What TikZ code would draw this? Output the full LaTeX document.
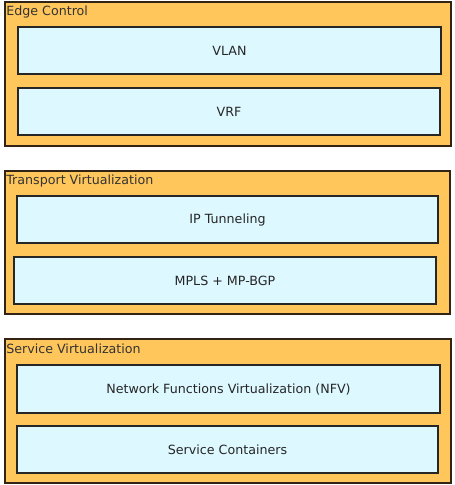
\documentclass[tikz,border=0pt]{standalone}
\usepackage{fontspec}
\setmainfont{DejaVu Sans}
\definecolor{outerfill}{RGB}{255,198,92}
\definecolor{innerfill}{RGB}{221,248,255}
\definecolor{edge}{RGB}{50,35,20}
\begin{document}
\begin{tikzpicture}[x=0.75pt,y=-0.75pt,
  group/.style={draw=edge,line width=0.9pt,fill=outerfill},
  layer/.style={draw=black!85,line width=0.9pt,fill=innerfill},
  lbl/.style={font=\fontsize{9.5pt}{11pt}\selectfont,text=black!85},
  title/.style={font=\fontsize{9.5pt}{11pt}\selectfont,text=black!80,anchor=west,inner sep=0pt}]
\useasboundingbox (0,0) rectangle (454,485);
\fill[white] (0,0) rectangle (454,485);
% Edge Control
\draw[group] (5,2) rectangle (451,146);
\node[title] (t1) at (6,12) {Edge Control};
\draw[layer] (18,27) rectangle (441,74);
\node[lbl] (vlan) at (229.5,51) {VLAN};
\draw[layer] (18,88) rectangle (440,135);
\node[lbl] (vrf) at (229,112) {VRF};
% Transport Virtualization
\draw[group] (5,171) rectangle (450,314);
\node[title] (t2) at (6,181) {Transport Virtualization};
\draw[layer] (17,196) rectangle (438,243);
\node[lbl] (ipt) at (227.5,220) {IP Tunneling};
\draw[layer] (14,257) rectangle (436,304);
\node[lbl] (mpls) at (225,281) {MPLS + MP-BGP};
% Service Virtualization
\draw[group] (5,339) rectangle (451,483);
\node[title] (t3) at (6,349) {Service Virtualization};
\draw[layer] (17,365) rectangle (440,413);
\node[lbl] (nfv) at (228.5,390) {Network Functions Virtualization (NFV)};
\draw[layer] (17,426) rectangle (438,473);
\node[lbl] (sc) at (227.5,450) {Service Containers};
\end{tikzpicture}
\end{document}
